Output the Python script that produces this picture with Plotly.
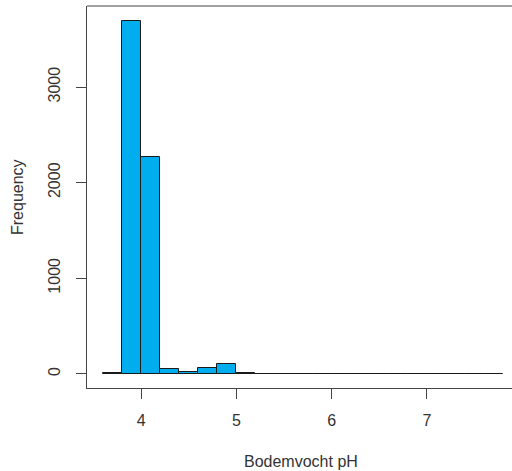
import plotly.graph_objects as go

# Histogram bins (left edges, width 0.2) and counts
bin_left = [3.6, 3.8, 4.0, 4.2, 4.4, 4.6, 4.8, 5.0, 5.2, 5.4, 5.6, 5.8, 6.0,
            6.2, 6.4, 6.6, 6.8, 7.0, 7.2, 7.4, 7.6]
counts = [12, 3690, 2265, 48, 15, 65, 100, 6, 0, 3, 3, 3, 3,
          0, 3, 3, 3, 3, 0, 3, 3]
bin_width = 0.2
x_ticks = [4, 5, 6, 7]
y_ticks = [0, 1000, 2000, 3000]

centers = [b + bin_width / 2 for b in bin_left]

fig = go.Figure()
fig.add_trace(go.Bar(
    x=centers, y=counts, width=[bin_width] * len(counts),
    marker=dict(color="#00AEEF", line=dict(color="#1a1a1a", width=1)),
    hoverinfo="skip",
))

font = dict(family="Liberation Sans, Arial, sans-serif", size=16, color="#333333")

fig.update_layout(
    width=512, height=471,
    margin=dict(l=87, r=0, t=6, b=83),
    paper_bgcolor="white", plot_bgcolor="white",
    showlegend=False, bargap=0,
    font=font,
    xaxis=dict(range=[3.432, 7.893], tickvals=x_ticks, ticktext=[str(v) for v in x_ticks],
               showgrid=False, zeroline=False, showline=True, linecolor="#444444", linewidth=1,
               ticks="outside", ticklen=10, tickcolor="#444444", tickfont=font,
               ticklabelstandoff=8),
    yaxis=dict(range=[-148, 3848], tickvals=y_ticks, ticktext=[str(v) for v in y_ticks],
               showgrid=False, zeroline=False, showline=True, linecolor="#444444", linewidth=1,
               ticks="outside", ticklen=10, tickcolor="#444444", tickfont=font,
               tickangle=-90, ticklabelstandoff=10),
    shapes=[dict(type="line", xref="paper", yref="paper", x0=0, x1=1, y0=1, y1=1,
                 line=dict(color="#444444", width=1))],
    annotations=[
        dict(text="Bodemvocht pH", xref="paper", yref="paper", x=0.5035, y=-0.1937,
             xanchor="center", yanchor="middle", showarrow=False, font=font),
        dict(text="Frequency", xref="paper", yref="paper", x=-0.1647, y=0.5,
             xanchor="center", yanchor="middle", textangle=-90, showarrow=False, font=font),
    ],
)

fig.write_html("out.html", config={"displayModeBar": False},
               post_script="document.body.style.margin='0';document.body.style.padding='0';")
